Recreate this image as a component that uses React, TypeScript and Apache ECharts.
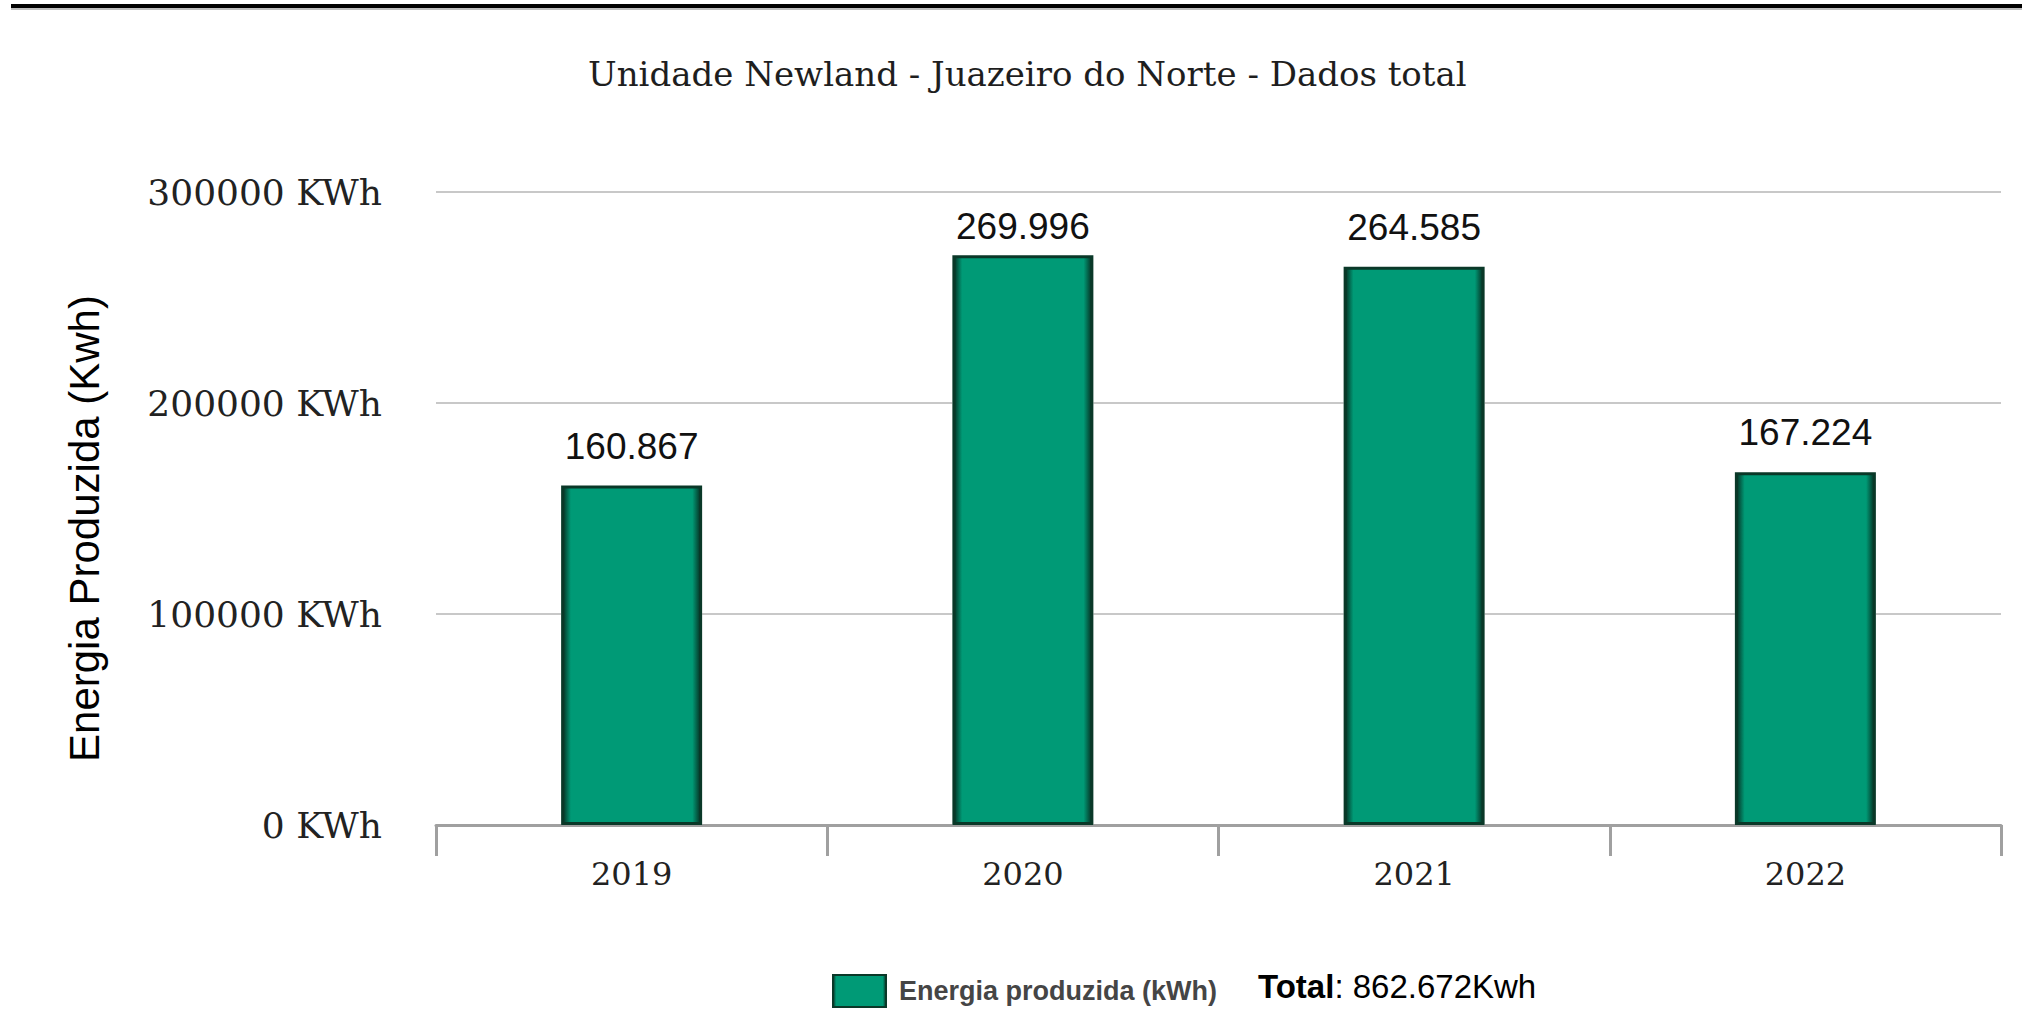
import React, { useEffect, useRef } from "react";
import * as echarts from "echarts";

const titleText = "Unidade Newland - Juazeiro do Norte - Dados total";
const categories = ["2019", "2020", "2021", "2022"];
const energyValues = [160867, 269996, 264585, 167224];
const seriesName = "Energia produzida (kWh)";
const yAxisName = "Energia Produzida (Kwh)";
const yUnit = "KWh";
const totalLabel = "Total";
const totalValue = "862.672Kwh";
const yMin = 0;
const yMax = 300000;
const yInterval = 100000;

const SERIF = "DejaVu Serif";
const SANS = "Liberation Sans";

function fmtThousands(v: number): string {
  return String(Math.round(v)).replace(/\B(?=(\d{3})+(?!\d))/g, ".");
}

export default function App() {
  const ref = useRef<HTMLDivElement>(null);

  useEffect(() => {
    if (!ref.current) return;
    const chart = echarts.init(ref.current, null, { renderer: "svg" });

    const barFill = new echarts.graphic.LinearGradient(0, 0, 1, 0, [
      { offset: 0, color: "#072e21" },
      { offset: 0.06, color: "#009a76" },
      { offset: 0.94, color: "#009a76" },
      { offset: 1, color: "#072e21" },
    ]);

    // the tallest bar's label sits level with its neighbour's, as in the source chart
    const mainData = energyValues.map((v, i) =>
      i === 1 ? { value: v, label: { distance: 10 } } : v
    );

    chart.setOption({
      animation: false,
      backgroundColor: "#ffffff",
      title: {
        text: titleText,
        left: 583,
        top: 52,
        textStyle: {
          fontFamily: SERIF,
          fontSize: 34,
          fontWeight: "normal",
          color: "#1e1e1e",
        },
      },
      grid: {
        left: 436,
        right: 21,
        top: 192,
        bottom: 209,
        containLabel: false,
        outerBoundsMode: "none",
      },
      legend: {
        data: [seriesName],
        left: 827,
        top: 969,
        icon: "rect",
        itemWidth: 53,
        itemHeight: 32,
        selectedMode: false,
        textStyle: {
          fontFamily: SANS,
          fontSize: 27,
          fontWeight: "bold",
          color: "#454545",
          padding: [0, 0, 0, 8],
        },
      },
      xAxis: {
        type: "category",
        data: categories,
        axisLine: { lineStyle: { color: "#a0a0a0", width: 3 } },
        axisTick: {
          show: true,
          alignWithLabel: false,
          length: 31,
          lineStyle: { color: "#a0a0a0", width: 3 },
        },
        axisLabel: {
          fontFamily: SERIF,
          fontSize: 32,
          color: "#222222",
          margin: 33,
        },
        splitLine: { show: false },
      },
      yAxis: {
        type: "value",
        min: yMin,
        max: yMax,
        interval: yInterval,
        name: yAxisName,
        nameLocation: "middle",
        nameRotate: 90,
        nameGap: 331,
        nameTextStyle: {
          fontFamily: SANS,
          fontSize: 42,
          color: "#000000",
          padding: [0, 40, 0, 0],
        },
        axisLine: { show: false },
        axisTick: { show: false },
        axisLabel: {
          fontFamily: SERIF,
          fontSize: 36,
          color: "#222222",
          margin: 54,
          formatter: (v: number) => `${v} ${yUnit}`,
        },
        splitLine: { lineStyle: { color: "#c8c8c8", width: 2 } },
      },
      series: [
        {
          name: "_halo",
          type: "bar",
          data: energyValues,
          barWidth: 141,
          silent: true,
          itemStyle: { color: "#ffffff", borderColor: "#ffffff", borderWidth: 10 },
          label: { show: false },
          emphasis: { disabled: true },
          tooltip: { show: false },
        },
        {
          name: seriesName,
          type: "bar",
          data: mainData,
          barWidth: 141,
          barGap: "-100%",
          itemStyle: {
            color: barFill,
            borderColor: "#0a3828",
            borderWidth: 3,
          },
          label: {
            show: true,
            position: "top",
            distance: 21,
            fontFamily: SANS,
            fontSize: 37,
            color: "#111111",
            formatter: (p: any) => fmtThousands(p.value),
          },
        },
      ],
      graphic: [
        {
          type: "rect",
          left: 11,
          top: 4,
          shape: { width: 2011, height: 4 },
          style: { fill: "#000000" },
          silent: true,
        },
        {
          type: "rect",
          left: 11,
          top: 8,
          shape: { width: 2011, height: 2 },
          style: { fill: "#bdbdbd" },
          silent: true,
        },
        {
          type: "text",
          left: 1258,
          top: 970,
          style: {
            text: `{b|${totalLabel}}: ${totalValue}`,
            fontFamily: SANS,
            fontSize: 33,
            fill: "#000000",
            rich: {
              b: { fontFamily: SANS, fontSize: 33, fontWeight: "bold", fill: "#000000" },
            },
          },
          silent: true,
        },
      ],
    });

    return () => {
      chart.dispose();
    };
  }, []);

  return (
    <div
      ref={ref}
      style={{ position: "fixed", left: 0, top: 0, width: 2022, height: 1034 }}
    />
  );
}
